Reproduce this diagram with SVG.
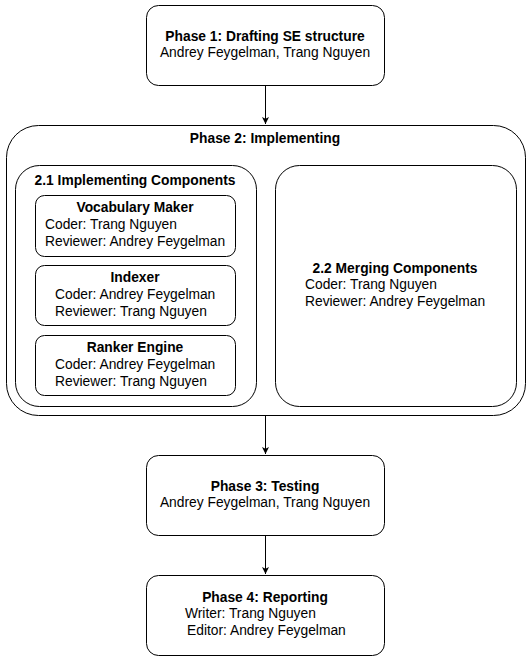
<svg xmlns="http://www.w3.org/2000/svg" width="531" height="661" viewBox="0 0 531 661">
<defs>
<style>
.box{fill:#fff;stroke:#000;stroke-width:1}
text{font-family:"Liberation Sans",Arial,sans-serif;font-size:13.8px;fill:#000}
.b{font-weight:bold}
.c{text-anchor:middle}
.edge{stroke:#000;stroke-width:1;fill:none}
</style>
<marker id="arr" markerWidth="10" markerHeight="10" refX="7" refY="3.5" orient="auto" markerUnits="userSpaceOnUse">
<path d="M0,0 L7,3.5 L0,7 L1.75,3.5 Z" fill="#000"/>
</marker>
</defs>
<rect width="531" height="661" fill="#fff"/>
<g id="phase1">
<rect class="box" x="146.5" y="5.5" width="238" height="80" rx="12"/>
<text class="b c" x="265" y="41">Phase 1: Drafting SE structure</text>
<text class="c" x="265" y="57">Andrey Feygelman, Trang Nguyen</text>
</g>
<g id="phase2">
<rect class="box" x="6.5" y="125.5" width="519" height="290" rx="32"/>
<text class="b c" x="265" y="143">Phase 2: Implementing</text>
</g>
<g id="impl">
<rect class="box" x="15.5" y="165.5" width="241" height="241" rx="24"/>
<text class="b c" x="135" y="185">2.1 Implementing Components</text>
</g>
<g id="vocab">
<rect class="box" x="35.5" y="195.5" width="200" height="61" rx="9"/>
<text class="b c" x="135" y="212">Vocabulary Maker</text>
<text x="45" y="229">Coder: Trang Nguyen</text>
<text x="45" y="246">Reviewer: Andrey Feygelman</text>
</g>
<g id="indexer">
<rect class="box" x="35.5" y="265.5" width="200" height="60" rx="9"/>
<text class="b c" x="135" y="282">Indexer</text>
<text x="55" y="299">Coder: Andrey Feygelman</text>
<text x="55" y="316">Reviewer: Trang Nguyen</text>
</g>
<g id="ranker">
<rect class="box" x="35.5" y="335.5" width="200" height="60" rx="9"/>
<text class="b c" x="135" y="352">Ranker Engine</text>
<text x="55" y="369">Coder: Andrey Feygelman</text>
<text x="55" y="386">Reviewer: Trang Nguyen</text>
</g>
<g id="merge">
<rect class="box" x="275.5" y="165.5" width="241" height="241" rx="24"/>
<text class="b c" x="395" y="273">2.2 Merging Components</text>
<text x="305" y="289">Coder: Trang Nguyen</text>
<text x="305" y="306">Reviewer: Andrey Feygelman</text>
</g>
<g id="phase3">
<rect class="box" x="146.5" y="455.5" width="238" height="80" rx="12"/>
<text class="b c" x="265" y="491">Phase 3: Testing</text>
<text class="c" x="265" y="507">Andrey Feygelman, Trang Nguyen</text>
</g>
<g id="phase4">
<rect class="box" x="146.5" y="575.5" width="238" height="80" rx="12"/>
<text class="b c" x="265" y="602">Phase 4: Reporting</text>
<text x="185" y="618">Writer: Trang Nguyen</text>
<text x="187" y="635">Editor: Andrey Feygelman</text>
</g>
<g id="connectors">
<path class="edge" d="M265.5,86 L265.5,124" marker-end="url(#arr)"/>
<path class="edge" d="M265.5,416 L265.5,454" marker-end="url(#arr)"/>
<path class="edge" d="M265.5,536 L265.5,574" marker-end="url(#arr)"/>
</g>
</svg>
